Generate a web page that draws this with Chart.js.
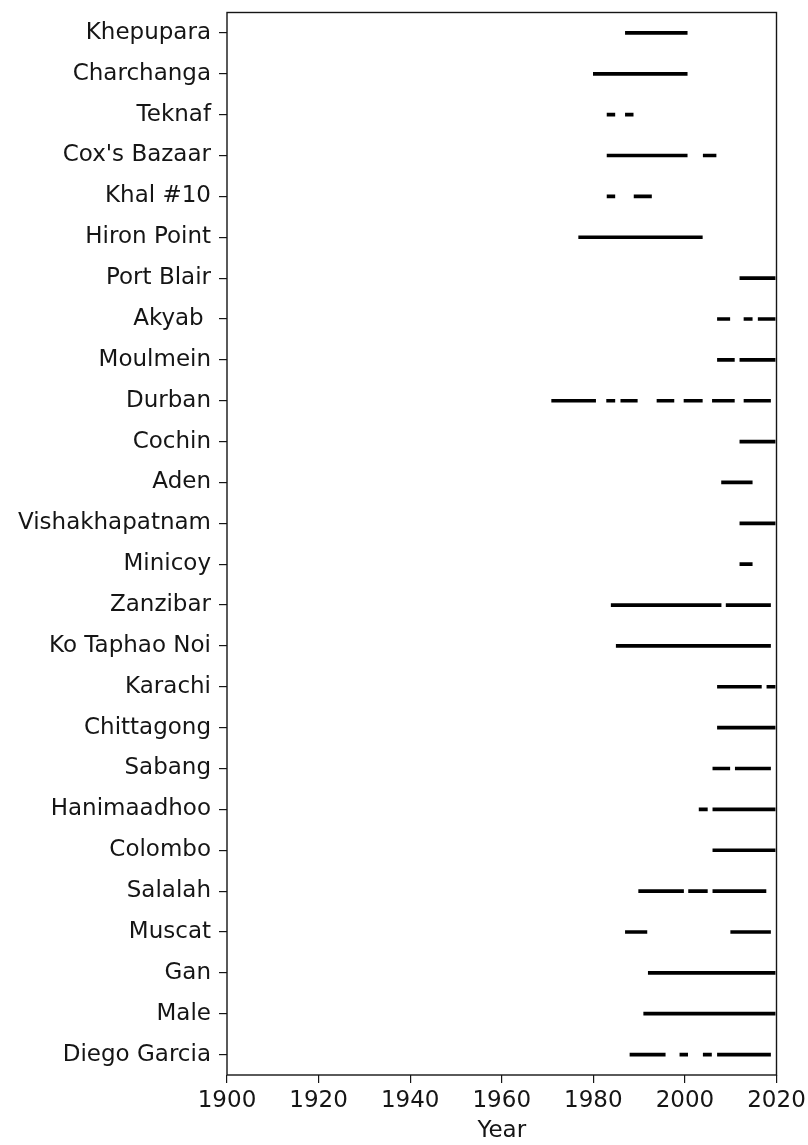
<!DOCTYPE html>
<html>
<head>
<meta charset="utf-8">
<script src="https://cdn.jsdelivr.net/npm/chart.js@4"></script>
<style>
  html, body { margin: 0; padding: 0; background: #fff; }
  #wrap { width: 808px; height: 1145px; }
</style>
</head>
<body>
<div id="wrap"><canvas id="chart"></canvas></div>
<script>
// station names, top to bottom
const stations = [
    'Khepupara', 'Charchanga', 'Teknaf', "Cox's Bazaar", 'Khal #10', 'Hiron Point',
    'Port Blair', 'Akyab ', 'Moulmein', 'Durban', 'Cochin', 'Aden', 'Vishakhapatnam',
    'Minicoy', 'Zanzibar', 'Ko Taphao Noi', 'Karachi', 'Chittagong', 'Sabang',
    'Hanimaadhoo', 'Colombo', 'Salalah', 'Muscat', 'Gan', 'Male', 'Diego Garcia'
];

// record periods (start year, end year) per station
const periods = [
    [[1987, 2000.5]],
    [[1980, 2000.5]],
    [[1983, 1984.7], [1987, 1988.7]],
    [[1983, 2000.5], [2004, 2006.8]],
    [[1983, 1984.7], [1988.9, 1992.7]],
    [[1976.8, 2003.8]],
    [[2012, 2019.7]],
    [[2007.1, 2009.8], [2012.9, 2014.7], [2016, 2019.7]],
    [[2007.1, 2010.8], [2012, 2019.7]],
    [[1970.9, 1980.5], [1982.9, 1984.7], [1986, 1989.6], [1993.9, 1997.6], [1999.8, 2003.8], [2006, 2010.8], [2012.9, 2018.7]],
    [[2012, 2019.7]],
    [[2008, 2014.7]],
    [[2012, 2019.7]],
    [[2012, 2014.7]],
    [[1983.9, 2007.9], [2009, 2018.7]],
    [[1985, 2018.7]],
    [[2007.1, 2016.7], [2017.9, 2019.7]],
    [[2007.1, 2019.7]],
    [[2006.1, 2009.8], [2011, 2018.7]],
    [[2003.1, 2004.9], [2006.1, 2019.7]],
    [[2006.1, 2019.7]],
    [[1989.9, 1999.7], [2000.8, 2004.9], [2006.1, 2017.7]],
    [[1987, 1991.7], [2010, 2018.7]],
    [[1992, 2019.7]],
    [[1991, 2019.7]],
    [[1988, 1995.7], [1998.9, 2000.6], [2004, 2005.8], [2007.1, 2018.7]]
];

const yearMin = 1900;
const yearMax = 2020;
const yearStep = 20;

const font = { family: '"DejaVu Sans", sans-serif', size: 23 };
const ink = '#151515';

// one dataset per segment slot, drawn on top of each other
const maxSegs = Math.max(...periods.map(p => p.length));
const datasets = [];
for (let i = 0; i < maxSegs; i++) {
    datasets.push({
        data: periods.map(p => p[i] ? p[i] : null),
        backgroundColor: '#000',
        borderWidth: 0,
        barThickness: 3,
        grouped: false
    });
}

// matplotlib style closed frame
const frame = {
    id: 'frame',
    afterDraw(chart) {
        const { ctx, chartArea: a } = chart;
        ctx.save();
        ctx.strokeStyle = ink;
        ctx.lineWidth = 1.4;
        ctx.strokeRect(a.left, a.top, a.right - a.left, a.bottom - a.top);
        ctx.restore();
    }
};

new Chart(document.getElementById('chart'), {
    type: 'bar',
    data: { labels: stations, datasets: datasets },
    options: {
        indexAxis: 'y',
        responsive: true,
        maintainAspectRatio: false,
        animation: false,
        layout: { padding: { left: 0, right: 31.5, top: 12.5, bottom: 0 } },
        plugins: { legend: { display: false }, tooltip: { enabled: false } },
        scales: {
            x: {
                type: 'linear',
                min: yearMin,
                max: yearMax,
                ticks: { stepSize: yearStep, color: ink, font: font, padding: 4, callback: (v) => String(v) },
                grid: { drawOnChartArea: false, drawTicks: true, tickLength: 8, color: ink, lineWidth: 1.2 },
                border: { display: false },
                title: { display: true, text: 'Year', color: ink, font: font, padding: { top: 0, bottom: 0 } },
                afterFit: (scale) => {
                    scale.height = 70;
                    scale.paddingLeft = 0;
                    scale.paddingRight = 0;
                }
            },
            y: {
                type: 'category',
                ticks: { color: ink, font: font, padding: 8, autoSkip: false },
                grid: { offset: false, drawOnChartArea: false, drawTicks: true, tickLength: 8, color: ink, lineWidth: 1.2 },
                border: { display: false },
                afterFit: (scale) => {
                    scale.width = 227;
                    // labels sit half a row inside, no extra room needed
                    scale.paddingTop = 0;
                    scale.paddingBottom = 0;
                }
            }
        }
    },
    plugins: [frame]
});
</script>
</body>
</html>
